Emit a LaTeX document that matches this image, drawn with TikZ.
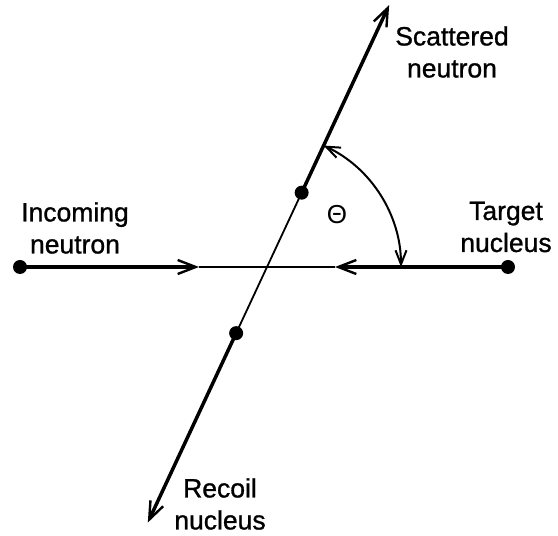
\documentclass[tikz,border=0pt]{standalone}
\usepackage{fontspec}
\setmainfont{Liberation Sans}
\newfontfamily\lblfont{Liberation Sans}[FakeBold=1]
\usetikzlibrary{arrows.meta,calc}
\tikzset{smallbarb/.tip={Straight Barb[length=14pt,width=11pt,line width=2pt]},
  bigbarb/.tip={Straight Barb[length=18pt,width=14pt,line width=2.4pt]}}
\begin{document}
\begin{tikzpicture}[x=1pt,y=1pt,
  dot/.style={circle,fill=black,inner sep=0pt,minimum size=14pt},
  thickln/.style={line width=3.5pt},
  thinln/.style={line width=1.8pt},
  barb/.style={-{bigbarb}},
  lbl/.style={align=center,font=\lblfont\fontsize{26.5}{32}\selectfont,inner sep=0pt}]
\useasboundingbox (0,0) rectangle (558,536);
\coordinate (O) at (267,269);
\node[dot] (L) at (20,269) {};
\node[dot] (R) at (508,269) {};
\node[dot] (U) at ($(O)+(65:82)$) {};
\node[dot] (D) at ($(O)+(245:73)$) {};
\coordinate (T) at ($(O)+(65:289)$);
\coordinate (B) at ($(O)+(245:282)$);
\coordinate (LA) at (199,269);
\coordinate (RA) at (335,269);
\coordinate (A1) at ($(O)+(0:134)$);
\coordinate (A2) at ($(O)+(65:134)$);
% horizontal line
\draw[thickln,barb] (L.center) -- (LA);
\draw[thinln] (LA) -- (RA);
\draw[thickln,barb] (R.center) -- (RA);
% diagonal line
\draw[thickln,barb] (U.center) -- (T);
\draw[thinln] (U.center) -- (D.center);
\draw[thickln,barb] (D.center) -- (B);
% angle arc
\draw[line width=2pt,{smallbarb}-{smallbarb}]
  (A1) arc[start angle=0,end angle=65,radius=134];
\node[font=\fontsize{26}{30}\selectfont,inner sep=0pt] (th) at (337,321) {Θ};
% labels
\node[lbl] (sc) at (452,484) {Scattered\\neutron};
\node[lbl] (in) at (75,308) {Incoming\\neutron};
\node[lbl] (tg) at (506,309) {Target\\nucleus};
\node[lbl] (rc) at (220,32) {Recoil\\nucleus};
\end{tikzpicture}
\end{document}
